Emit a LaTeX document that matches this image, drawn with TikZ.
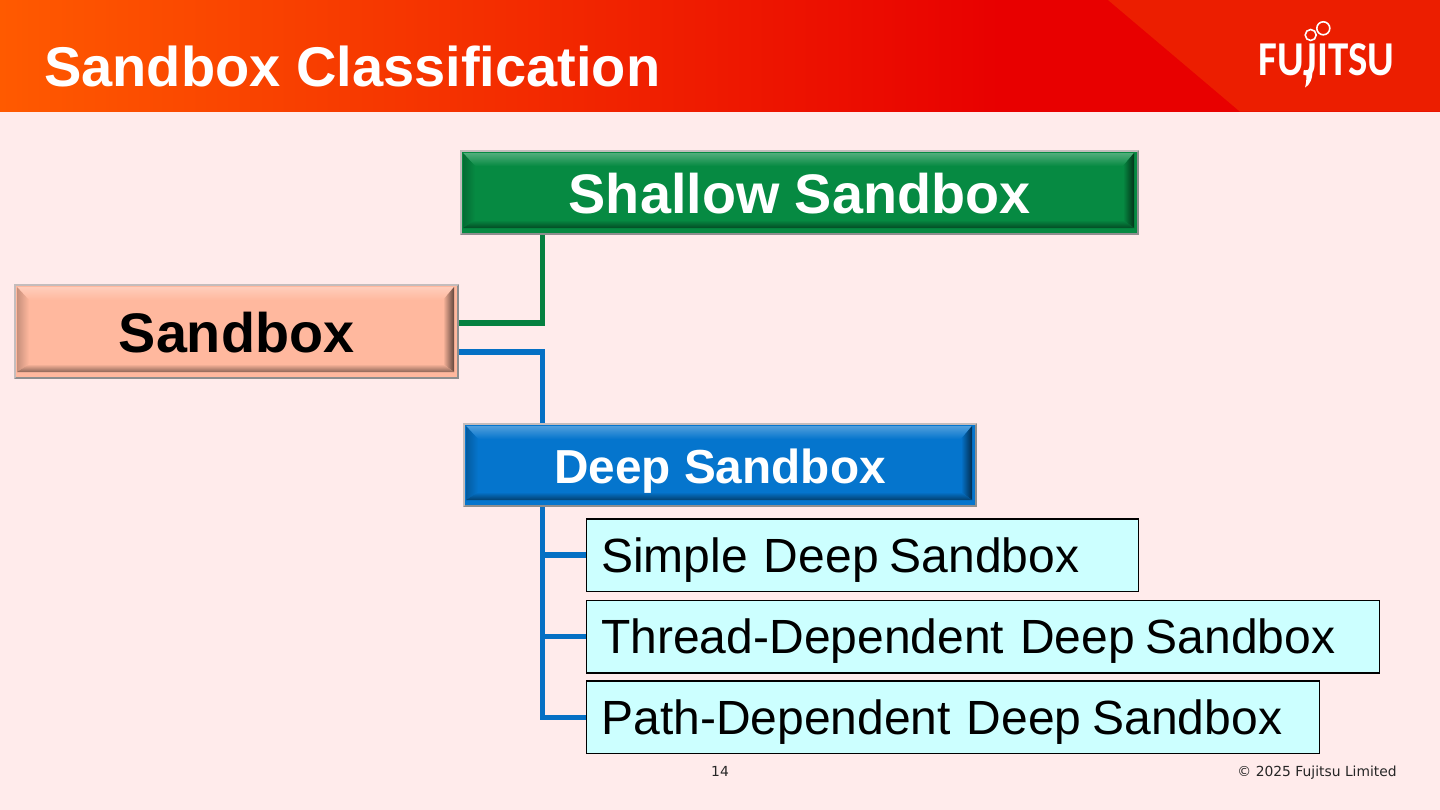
\documentclass[tikz,border=0pt]{standalone}
\usepackage{fontspec}
\setmainfont{Liberation Sans}
\newfontfamily\footfont{DejaVu Sans}
\newfontfamily\logofont{Carlito}
\usetikzlibrary{calc}
\definecolor{pagebg}{HTML}{FFEBEB}
\definecolor{hdrorange}{HTML}{FF5A00}
\definecolor{hdrred}{HTML}{E80000}
\definecolor{hdrtri}{HTML}{EC1E00}
\definecolor{linkgreen}{HTML}{058040}
\definecolor{linkblue}{HTML}{0570C4}
\definecolor{childfill}{HTML}{CCFFFF}
\definecolor{sandboxsalmon}{HTML}{FFB89E}
\definecolor{shallowgreen}{HTML}{068A42}
\definecolor{deepblue}{HTML}{0575CD}
\definecolor{edgelight}{HTML}{C4BCBC}
\definecolor{edgedark}{HTML}{8E8E8E}
\newcommand{\dsk}{Deep\kern-3.7pt\ Sandbox}
\tikzset{
  x=0.75pt,y=-0.75pt,
  titletext/.style={inner sep=0pt,anchor=base west,text=white,font=\fontsize{42}{50}\selectfont\bfseries},
  facetext/.style={inner sep=0pt,anchor=center,font=\bfseries},
  link/.style={line width=4.4pt,line cap=butt,line join=miter},
  childbox/.style={draw=black,line width=1.2pt,fill=childfill,anchor=north west,inner ysep=0pt,inner xsep=11.25pt,align=left,text height=35pt,text depth=9pt,font=\fontsize{36}{42}\selectfont},
  foot/.style={inner sep=0pt,text=black!85,anchor=base,font=\footfont\fontsize{10.4}{13}\selectfont},
}
% \bevelbox{name}{x0}{y0}{x1}{y1}{base colour}{text colour}{font size}{text}
\newcommand{\bevelbox}[9]{%
  \pgfmathsetmacro{\xo}{#2+2}\pgfmathsetmacro{\yo}{#3+2}
  \pgfmathsetmacro{\xp}{#4-2}\pgfmathsetmacro{\yp}{#5-2}
  \pgfmathsetmacro{\xa}{#2+3}\pgfmathsetmacro{\ya}{#3+3}
  \pgfmathsetmacro{\xb}{#4-5}\pgfmathsetmacro{\yb}{#5-7}
  \pgfmathsetmacro{\xc}{#2+15}\pgfmathsetmacro{\yc}{#3+16}
  \pgfmathsetmacro{\xd}{#4-16}\pgfmathsetmacro{\yd}{#5-15}
  \fill[edgedark] (#2,#3) rectangle (#4,#5);
  \fill[edgelight] (#2,#3) -- (#4,#3) -- (\xp,\yo) -- (\xo,\yo) -- (\xo,\yp) -- (#2,#5) -- cycle;
  \fill[#6] (\xo,\yo) rectangle (\xp,\yp);
  \shade[top color=#6!70!white,bottom color=#6] (\xa,\ya) -- (\xb,\ya) -- (\xd,\yc) -- (\xc,\yc) -- cycle;
  \shade[left color=#6!78!black,right color=#6] (\xa,\ya) -- (\xc,\yc) -- (\xc,\yd) -- (\xa,\yb) -- cycle;
  \shade[left color=#6,right color=#6!38!black] (\xb,\ya) -- (\xd,\yc) -- (\xd,\yd) -- (\xb,\yb) -- cycle;
  \shade[top color=#6,bottom color=#6!55!black] (\xa,\yb) -- (\xc,\yd) -- (\xd,\yd) -- (\xb,\yb) -- cycle;
  \node[facetext,text=#7,font=\fontsize{#8}{#8}\selectfont\bfseries] (#1) at ({(#2+#4)/2},{(#3+#5)/2+\bevelshift}) {#9};
  \coordinate (#1-nw) at (#2,#3); \coordinate (#1-se) at (#4,#5);
}
\begin{document}
\begin{tikzpicture}
\useasboundingbox (0,0) rectangle (1440,810);
\fill[pagebg] (0,0) rectangle (1440,810);
% header
\fill[hdrred] (0,0) rectangle (1440,111.7);
\shade[left color=hdrorange,right color=hdrred] (0,0) rectangle (1000,111);
\fill[hdrtri] (1108,0) -- (1440,0) -- (1440,111.7) -- (1240,111.7) -- cycle;
\node[titletext] (title) at (44,86) {Sandbox Classification};
% logo
\node[inner sep=0pt,anchor=base,text=white,font=\logofont\bfseries\fontsize{36.5}{37}\selectfont] (logo) at (1326.5,75) {\scalebox{0.84}[1]{FUJITSU}};
\draw[white,line width=1.2pt] (1310.7,35) circle[radius=5.5] (1323.3,28.3) circle[radius=6.5];
\fill[white] (1306,70) -- (1312.5,70) .. controls (1312.5,79) and (1310,85) .. (1305,87.5) .. controls (1306.5,83) and (1306.5,78) .. (1306,70) -- cycle;
% boxes
\def\bevelshift{1}
\bevelbox{sandbox}{14}{284}{459}{379}{sandboxsalmon}{black}{41.8}{Sandbox}
\bevelbox{shallow}{460}{150}{1139}{235}{shallowgreen}{white}{41.8}{Shallow Sandbox}
\def\bevelshift{6}
\bevelbox{deep}{463}{423}{977}{507}{deepblue}{white}{35.8}{Deep Sandbox}
\node[childbox,text width=522*0.75pt,minimum height=72.5*0.75pt] (simple) at (585.5,518) {Simple \dsk};
\node[childbox,text width=763*0.75pt,minimum height=72.5*0.75pt] (thread) at (585.5,599.5) {Thread-Dependent \dsk};
\node[childbox,text width=703*0.75pt,minimum height=72.5*0.75pt] (path) at (585.5,680) {Path-Dependent \dsk};
% connectors
\coordinate (tapgreen) at (sandbox-se |- 0,322.7);
\coordinate (tapblue) at (sandbox-se |- 0,352);
\coordinate (shallowfoot) at (542.5,235);
\coordinate (deephead) at (542.5,423);
\coordinate (deepfoot) at (542.5,507);
\coordinate (bottomcorner) at (542.5,717.5);
\draw[link,linkgreen] (tapgreen) -| (shallowfoot);
\draw[link,linkblue] (tapblue) -| (deephead);
\draw[link,linkblue] (deepfoot) -- (bottomcorner) -- (path.west |- bottomcorner);
\draw[link,linkblue] (deepfoot |- simple.west) -- (simple.west);
\draw[link,linkblue] (deepfoot |- thread.west) -- (thread.west);
% footer
\node[foot] (pageno) at (720,776) {14};
\node[foot,anchor=base east] (copyright) at (1397,776) {© 2025 Fujitsu Limited};
\end{tikzpicture}
\end{document}
